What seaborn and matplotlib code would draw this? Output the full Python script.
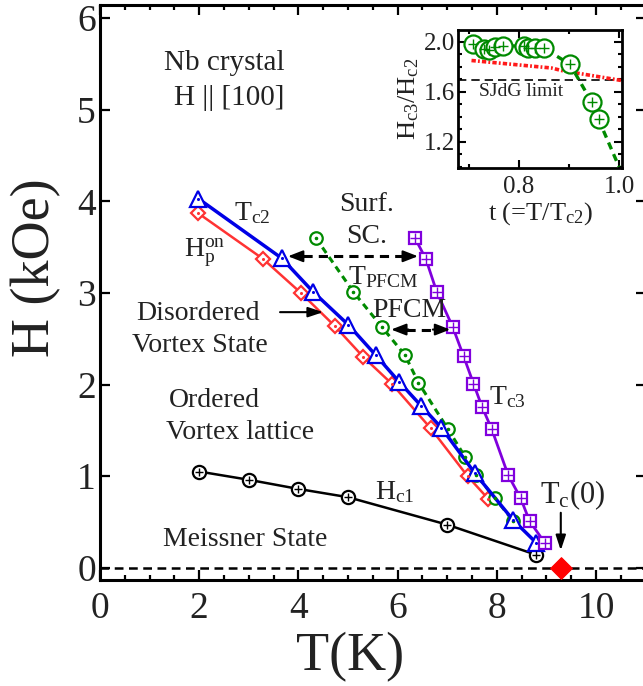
import numpy as np
import pandas as pd
import matplotlib
matplotlib.use("Agg")
import matplotlib.pyplot as plt
from matplotlib.ticker import MultipleLocator, FixedLocator
import seaborn as sns

# ---------------- data ----------------
hc1_T = [2.0, 3.0, 4.0, 5.0, 7.0, 8.8]
hc1_H = [1.05, 0.96, 0.86, 0.77, 0.47, 0.14]

tc2_T = [1.98, 3.66, 4.30, 5.01, 5.56, 6.03, 6.47, 6.88, 7.56, 8.33, 8.80]
tc2_H = [4.03, 3.38, 3.01, 2.65, 2.32, 2.03, 1.77, 1.53, 1.03, 0.52, 0.27]

hp_T = [1.98, 3.29, 4.05, 4.73, 5.31, 5.88, 6.67, 7.41, 7.83]
hp_H = [3.87, 3.37, 3.00, 2.64, 2.30, 2.01, 1.52, 1.00, 0.75]

pfcm_T = [4.35, 5.11, 5.68, 6.15, 6.42, 7.02, 7.36, 7.59, 7.96, 8.33]
pfcm_H = [3.60, 3.01, 2.63, 2.32, 2.02, 1.51, 1.21, 1.01, 0.76, 0.51]

tc3_T = [6.35, 6.57, 6.79, 7.11, 7.33, 7.53, 7.70, 7.90, 8.23, 8.48, 8.66, 8.97]
tc3_H = [3.60, 3.37, 3.01, 2.63, 2.31, 2.01, 1.76, 1.51, 1.01, 0.76, 0.51, 0.27]

tc0_T = [9.29]
tc0_H = [0.0]

# inset: Hc3/Hc2 vs t
ins_t = [0.709, 0.730, 0.739, 0.752, 0.767, 0.809, 0.817, 0.832, 0.850, 0.902, 0.945, 0.959]
ins_r = [1.98, 1.94, 1.93, 1.955, 1.966, 1.966, 1.947, 1.947, 1.947, 1.82, 1.52, 1.38]
ins_fit_t = [0.959, 1.0]
ins_fit_r = [1.38, 1.0]
ins_red_t = [0.705, 0.865, 0.885, 1.005]
ins_red_r = [1.85, 1.79, 1.77, 1.69]
sjdg = 1.695

xticks_main = [0, 2, 4, 6, 8, 10]
yticks_main = [0, 1, 2, 3, 4, 5, 6]

# ---------------- style ----------------
sns.set_style("ticks")
plt.rcParams['font.family'] = ['Liberation Serif', 'DejaVu Serif']
plt.rcParams['mathtext.fontset'] = 'custom'
plt.rcParams['mathtext.rm'] = 'Liberation Serif'
plt.rcParams['mathtext.it'] = 'Liberation Serif:italic'
plt.rcParams['text.color'] = '#222222'

BLUE = '#0000e6'
RED = '#ff3333'
GREEN = '#008a00'
PURPLE = '#8000dd'
TXT = '#222222'

W, H = 643, 686
fig = plt.figure(figsize=(W / 100, H / 100), dpi=100)
ax = fig.add_axes([100 / W, 106 / H, 545.6 / W, 575 / H])
ax.set_xlim(0, 11)
ax.set_ylim(-0.134, 6.143)


def series(x, y, color, marker, ms, ls='-', lw=2.2, dashes=None, inner=None, inner_ms=2.5, inner_color=None, zorder=3, axis=None):
    a = axis if axis is not None else ax
    df = pd.DataFrame({'x': x, 'y': y})
    kw = dict(data=df, x='x', y='y', ax=a, color=color, lw=lw, marker=marker, markersize=ms,
              markerfacecolor='white', markeredgecolor=color, markeredgewidth=1.6,
              estimator=None, sort=False, zorder=zorder, legend=False)
    if dashes is not None:
        kw['linestyle'] = (0, dashes)
    else:
        kw['linestyle'] = ls
    sns.lineplot(**kw)
    if inner is not None:
        sns.scatterplot(data=df, x='x', y='y', ax=a, marker=inner, s=inner_ms,
                        color=inner_color or color, edgecolor=inner_color or color,
                        linewidth=1.0, zorder=zorder + 0.5, legend=False)


# zero line
ax.axhline(0, color='black', lw=1.8, linestyle=(0, (3.5, 2.2)), zorder=1)

series(hc1_T, hc1_H, 'black', 'o', 9.5, lw=1.8, inner='+', inner_ms=30)
series(hp_T, hp_H, RED, 'D', 7.5, lw=1.8, inner='.', inner_ms=6)
series(pfcm_T, pfcm_H, GREEN, 'o', 9, lw=2.2, dashes=(2.2, 1.6), inner='.', inner_ms=10)
series(tc2_T, tc2_H, BLUE, '^', 11, lw=2.5, inner='.', inner_ms=6)
series(tc3_T, tc3_H, PURPLE, 's', 9, lw=2.0, inner='+', inner_ms=45)

sns.scatterplot(x=tc0_T, y=tc0_H, ax=ax, marker='D', s=120, color='#ff0000',
                edgecolor='#ff0000', zorder=6, legend=False, clip_on=False)

# arrows
def dashed_double(ax_, x1, x2, y):
    ax_.plot([x1 + 0.3, x2 - 0.3], [y, y], color='black', lw=2.2, linestyle=(0, (3, 2)), zorder=5)
    for xs, xe in [(x1 + 0.35, x1), (x2 - 0.35, x2)]:
        ax_.annotate('', xy=(xe, y), xytext=(xs, y),
                     arrowprops=dict(arrowstyle='-|>,head_length=0.9,head_width=0.35',
                                     color='black', lw=1.5, shrinkA=0, shrinkB=0), zorder=5)

dashed_double(ax, 3.79, 6.41, 3.40)
dashed_double(ax, 5.87, 7.06, 2.60)
ax.annotate('', xy=(4.50, 2.79), xytext=(3.63, 2.79),
            arrowprops=dict(arrowstyle='-|>,head_length=0.9,head_width=0.3', color='black',
                            lw=1.5, shrinkA=0, shrinkB=0))
ax.annotate('', xy=(9.29, 0.19), xytext=(9.29, 0.60),
            arrowprops=dict(arrowstyle='-|>,head_length=0.9,head_width=0.3', color='black',
                            lw=1.5, shrinkA=0, shrinkB=0))

# text labels
FS = 20
ax.text(2.5, 5.51, 'Nb crystal', fontsize=21, ha='center', va='center', color=TXT)
ax.text(2.6, 5.13, 'H || [100]', fontsize=21, ha='center', va='center', color=TXT)
ax.text(1.97, 2.77, 'Disordered', fontsize=FS, ha='center', va='center', color=TXT)
ax.text(2.02, 2.43, 'Vortex State', fontsize=FS, ha='center', va='center', color=TXT)
ax.text(2.30, 1.83, 'Ordered', fontsize=FS, ha='center', va='center', color=TXT)
ax.text(2.82, 1.48, 'Vortex lattice', fontsize=FS, ha='center', va='center', color=TXT)
ax.text(2.92, 0.31, 'Meissner State', fontsize=FS, ha='center', va='center', color=TXT)
ax.text(3.06, 3.87, r'$\mathrm{T_{c2}}$', fontsize=FS, ha='center', va='center', color=TXT)
ax.text(2.12, 3.44, r'$\mathrm{H_p^{on}}$', fontsize=FS, ha='center', va='center', color=TXT)
ax.text(5.38, 3.96, 'Surf.', fontsize=FS, ha='center', va='center', color=TXT)
ax.text(5.38, 3.62, 'SC.', fontsize=FS, ha='center', va='center', color=TXT)
ax.text(5.71, 3.17, r'$\mathrm{T_{PFCM}}$', fontsize=FS, ha='center', va='center', color=TXT)
ax.text(6.23, 2.81, 'PFCM', fontsize=FS, ha='center', va='center', color=TXT)
ax.text(8.21, 1.86, r'$\mathrm{T_{c3}}$', fontsize=FS, ha='center', va='center', color=TXT)
ax.text(5.95, 0.83, r'$\mathrm{H_{c1}}$', fontsize=FS, ha='center', va='center', color=TXT)
ax.text(9.52, 0.79, r'$\mathrm{T_c(0)}$', fontsize=22, ha='center', va='center', color=TXT)

# axes styling
ax.xaxis.set_major_locator(FixedLocator(xticks_main))
ax.xaxis.set_minor_locator(MultipleLocator(0.5))
ax.yaxis.set_major_locator(FixedLocator(yticks_main))
ax.set_xticklabels([str(v) for v in xticks_main])
ax.set_yticklabels([str(v) for v in yticks_main])
ax.tick_params(which='both', direction='in', top=True, right=True, colors='black')
ax.tick_params(which='major', length=7, width=1.6, labelsize=27, labelcolor=TXT)
ax.tick_params(which='minor', length=3.5, width=1.6)
ax.tick_params(axis='x', which='major', pad=8)
ax.tick_params(axis='y', which='major', pad=3)
for s in ax.spines.values():
    s.set_linewidth(2.2)
    s.set_color('black')
ax.set_xlabel('')
ax.set_ylabel('')
fig.text(350 / W, 1 - 657 / H, 'T(K)', fontsize=39, ha='center', va='center', color=TXT)
fig.text(36 / W, 1 - 268 / H, 'H (kOe)', fontsize=39, ha='center', va='center', rotation=90, color=TXT)

# ---------------- inset ----------------
ia = fig.add_axes([458 / W, 1 - 168 / H, (622 - 458) / W, (168 - 30) / H])
ia.set_xlim(0.678, 1.006)
ia.set_ylim(0.99, 2.094)
ia.axhline(sjdg, color='black', lw=1.2, linestyle=(0, (5, 3)), zorder=1)
ia.plot(ins_red_t, ins_red_r, color='#ff1a1a', lw=2.6, linestyle=(0, (1.2, 0.6, 0.5, 0.6)), zorder=2)
sns.lineplot(x=ins_fit_t, y=ins_fit_r, ax=ia, color=GREEN, lw=2.4, linestyle=(0, (2.2, 1.6)),
             estimator=None, sort=False, zorder=3, legend=False)
series(ins_t, ins_r, GREEN, 'o', 13, lw=2.4, dashes=(2.2, 1.6), inner='+', inner_ms=55, axis=ia, zorder=4)
ia.text(0.804, 1.60, 'SJdG limit', fontsize=14, ha='center', va='center', color=TXT)
ia.xaxis.set_major_locator(FixedLocator([0.8, 1.0]))
ia.xaxis.set_minor_locator(FixedLocator([0.7, 0.9]))
ia.yaxis.set_major_locator(FixedLocator([1.2, 1.6, 2.0]))
ia.yaxis.set_minor_locator(MultipleLocator(0.1))
ia.set_xticklabels(['0.8', '1.0'])
ia.set_yticklabels(['1.2', '1.6', '2.0'])
ia.tick_params(which='both', direction='in', top=True, right=True, colors='black')
ia.tick_params(which='major', length=6, width=1.5, labelsize=18, labelcolor=TXT)
ia.tick_params(which='minor', length=3, width=1.5)
ia.tick_params(axis='y', which='major', pad=2)
ia.tick_params(axis='x', which='major', pad=6)
for s in ia.spines.values():
    s.set_linewidth(2.0)
    s.set_color('black')
ia.set_xlabel(r't (=T/T$_{\mathrm{c2}}$)', fontsize=19, color=TXT, labelpad=1)
ia.set_ylabel(r'$\mathrm{H_{c3}/H_{c2}}$', fontsize=19, color=TXT, labelpad=2)

fig.savefig('out.png', dpi=100)
